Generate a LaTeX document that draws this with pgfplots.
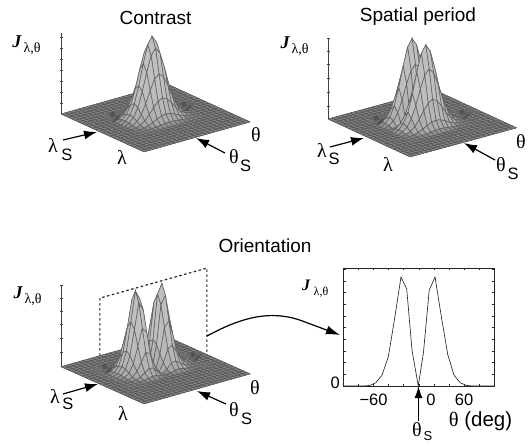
\documentclass[border=0pt]{standalone}
\usepackage{fontspec}
\setmainfont{Liberation Sans}
\newfontfamily\gk{Liberation Serif}
\usepackage{pgfplots}
\usepackage{pgfplotstable}
\pgfplotsset{compat=1.18}
\usetikzlibrary{arrows.meta}
\definecolor{axc}{gray}{0.25}
\definecolor{floorline}{gray}{0.3}
\pgfplotsset{
  colormap={hill}{gray(0cm)=(0.15) gray(1cm)=(0.5) gray(4cm)=(0.66) gray(31cm)=(0.75)},
  surfax/.style={hide axis, clip=false, anchor=origin,
    xmin=0,xmax=24,ymin=0,ymax=24,zmin=-0.1,zmax=1.1,
    colormap name=hill, point meta min=-0.01, point meta max=0.3},
  hillsurf/.style={surf, shader=faceted, faceted color=black!62, line width=0.55pt,
    z buffer=default, mesh/ordering=y varies, point meta=z},
  floorfill/.style={surf, shader=flat, z buffer=default, mesh/ordering=y varies, mesh/rows=2, mesh/cols=2, point meta=z},
  floorl/.style={no marks, draw=floorline, line width=0.45pt, unbounded coords=jump},
  dimple/.style={surf, shader=flat mean, z buffer=default, mesh/ordering=y varies, mesh/rows=4, mesh/cols=3, point meta=z},
}
\pgfplotstableread{
a b c
0 0 0
24 0 0
nan nan nan
0 1 0
24 1 0
nan nan nan
0 2 0
24 2 0
nan nan nan
0 3 0
24 3 0
nan nan nan
0 4 0
24 4 0
nan nan nan
0 5 0
24 5 0
nan nan nan
0 6 0
24 6 0
nan nan nan
0 7 0
24 7 0
nan nan nan
0 8 0
24 8 0
nan nan nan
0 9 0
24 9 0
nan nan nan
0 10 0
24 10 0
nan nan nan
0 11 0
24 11 0
nan nan nan
0 12 0
24 12 0
nan nan nan
0 13 0
24 13 0
nan nan nan
0 14 0
24 14 0
nan nan nan
0 15 0
24 15 0
nan nan nan
0 16 0
24 16 0
nan nan nan
0 17 0
24 17 0
nan nan nan
0 18 0
24 18 0
nan nan nan
0 19 0
24 19 0
nan nan nan
0 20 0
24 20 0
nan nan nan
0 21 0
24 21 0
nan nan nan
0 22 0
24 22 0
nan nan nan
0 23 0
24 23 0
nan nan nan
0 24 0
24 24 0
}\floortab
\newcommand{\gr}[1]{{\gk #1}}
\begin{document}
\begin{tikzpicture}[x=1pt,y=1pt]
\path[use as bounding box] (0,0) rectangle (529,445);

% ---------- Contrast
\begin{axis}[surfax, at={(61pt,331pt)}, x={(3.46pt,-1.58pt)}, y={(4.42pt,1.25pt)}, z={(0pt,80pt)}]
\addplot3[floorfill] coordinates {(0,24,0)(0,0,0)(24,24,0)(24,0,0)};
\addplot3[floorl] table[x=a,y=b,z=c]{\floortab};
\addplot3[floorl] table[x=b,y=a,z=c]{\floortab};
\addplot3[no marks, draw=axc, line width=0.6pt] coordinates {(0,0,0)(0,0,1.01)};
\addplot3[only marks, mark=-, mark size=1.5pt, draw=axc] coordinates {(0,0,.1375)(0,0,.275)(0,0,.4125)(0,0,.55)(0,0,.6875)(0,0,.825)(0,0,.9625)};
\addplot3[hillsurf, mesh/rows=15, mesh/cols=13] coordinates {
(5,19,0)(5,18,0)(5,17,0)(5,16,0)(5,15,0)(5,14,0)(5,13,0)(5,12,0)(5,11,0)(5,10,0)(5,9,0)(5,8,0)(5,7,0)(5,6,0)(5,5,0)
(6,19,0)(6,18,.001)(6,17,.003)(6,16,.007)(6,15,.013)(6,14,.021)(6,13,.027)(6,12,.03)(6,11,.027)(6,10,.021)(6,9,.013)(6,8,.007)(6,7,.003)(6,6,.001)(6,5,0)
(7,19,0)(7,18,.004)(7,17,.01)(7,16,.024)(7,15,.047)(7,14,.076)(7,13,.1)(7,12,.11)(7,11,.1)(7,10,.076)(7,9,.047)(7,8,.024)(7,7,.01)(7,6,.004)(7,5,0)
(8,19,0)(8,18,.01)(8,17,.028)(8,16,.064)(8,15,.125)(8,14,.2)(8,13,.264)(8,12,.29)(8,11,.264)(8,10,.2)(8,9,.125)(8,8,.064)(8,7,.028)(8,6,.01)(8,5,0)
(9,19,0)(9,18,.019)(9,17,.054)(9,16,.125)(9,15,.245)(9,14,.393)(9,13,.519)(9,12,.57)(9,11,.519)(9,10,.393)(9,9,.245)(9,8,.125)(9,7,.054)(9,6,.019)(9,5,0)
(10,19,0)(10,18,.029)(10,17,.083)(10,16,.191)(10,15,.374)(10,14,.6)(10,13,.792)(10,12,.87)(10,11,.792)(10,10,.6)(10,9,.374)(10,8,.191)(10,7,.083)(10,6,.029)(10,5,0)
(11,19,0)(11,18,.033)(11,17,.095)(11,16,.22)(11,15,.43)(11,14,.69)(11,13,.91)(11,12,1)(11,11,.91)(11,10,.69)(11,9,.43)(11,8,.22)(11,7,.095)(11,6,.033)(11,5,0)
(12,19,0)(12,18,.029)(12,17,.083)(12,16,.191)(12,15,.374)(12,14,.6)(12,13,.792)(12,12,.87)(12,11,.792)(12,10,.6)(12,9,.374)(12,8,.191)(12,7,.083)(12,6,.029)(12,5,0)
(13,19,0)(13,18,.019)(13,17,.054)(13,16,.125)(13,15,.245)(13,14,.393)(13,13,.519)(13,12,.57)(13,11,.519)(13,10,.393)(13,9,.245)(13,8,.125)(13,7,.054)(13,6,.019)(13,5,0)
(14,19,0)(14,18,.01)(14,17,.028)(14,16,.064)(14,15,.125)(14,14,.2)(14,13,.264)(14,12,.29)(14,11,.264)(14,10,.2)(14,9,.125)(14,8,.064)(14,7,.028)(14,6,.01)(14,5,0)
(15,19,0)(15,18,.004)(15,17,.01)(15,16,.024)(15,15,.047)(15,14,.076)(15,13,.1)(15,12,.11)(15,11,.1)(15,10,.076)(15,9,.047)(15,8,.024)(15,7,.01)(15,6,.004)(15,5,0)
(16,19,0)(16,18,.001)(16,17,.003)(16,16,.007)(16,15,.013)(16,14,.021)(16,13,.027)(16,12,.03)(16,11,.027)(16,10,.021)(16,9,.013)(16,8,.007)(16,7,.003)(16,6,.001)(16,5,0)
(17,19,0)(17,18,0)(17,17,0)(17,16,0)(17,15,0)(17,14,0)(17,13,0)(17,12,0)(17,11,0)(17,10,0)(17,9,0)(17,8,0)(17,7,0)(17,6,0)(17,5,0)
};
\addplot3[dimple] coordinates {(5,9,0)(5,8,0)(5,7,0)(5,6,0)(6,9,0)(6,8,-.08)(6,7,-.08)(6,6,0)(7,9,0)(7,8,0)(7,7,0)(7,6,0)};
\addplot3[dimple] coordinates {(9,22,0)(9,21,0)(9,20,0)(9,19,0)(10,22,0)(10,21,-.08)(10,20,-.08)(10,19,0)(11,22,0)(11,21,0)(11,20,0)(11,19,0)};
\end{axis}

% ---------- Spatial period
\begin{axis}[surfax, at={(328pt,326pt)}, x={(3.42pt,-1.58pt)}, y={(4.44pt,1.21pt)}, z={(0pt,80pt)}]
\addplot3[floorfill] coordinates {(0,24,0)(0,0,0)(24,24,0)(24,0,0)};
\addplot3[floorl] table[x=a,y=b,z=c]{\floortab};
\addplot3[floorl] table[x=b,y=a,z=c]{\floortab};
\addplot3[no marks, draw=axc, line width=0.6pt] coordinates {(0,0,0)(0,0,1.01)};
\addplot3[only marks, mark=-, mark size=1.5pt, draw=axc] coordinates {(0,0,.16)(0,0,.34)(0,0,.51)(0,0,.68)(0,0,.85)(0,0,1.01)};
\addplot3[hillsurf, mesh/rows=15, mesh/cols=15] coordinates {
(4,19,0)(4,18,0)(4,17,0)(4,16,0)(4,15,0)(4,14,0)(4,13,0)(4,12,0)(4,11,0)(4,10,0)(4,9,0)(4,8,0)(4,7,0)(4,6,0)(4,5,0)
(5,19,0)(5,18,.001)(5,17,.003)(5,16,.007)(5,15,.013)(5,14,.021)(5,13,.027)(5,12,.03)(5,11,.027)(5,10,.021)(5,9,.013)(5,8,.007)(5,7,.003)(5,6,.001)(5,5,0)
(6,19,0)(6,18,.004)(6,17,.011)(6,16,.026)(6,15,.052)(6,14,.083)(6,13,.109)(6,12,.12)(6,11,.109)(6,10,.083)(6,9,.052)(6,8,.026)(6,7,.011)(6,6,.004)(6,5,0)
(7,19,0)(7,18,.012)(7,17,.034)(7,16,.079)(7,15,.155)(7,14,.248)(7,13,.328)(7,12,.36)(7,11,.328)(7,10,.248)(7,9,.155)(7,8,.079)(7,7,.034)(7,6,.012)(7,5,0)
(8,19,0)(8,18,.024)(8,17,.068)(8,16,.158)(8,15,.31)(8,14,.497)(8,13,.655)(8,12,.72)(8,11,.655)(8,10,.497)(8,9,.31)(8,8,.158)(8,7,.068)(8,6,.024)(8,5,0)
(9,19,0)(9,18,.033)(9,17,.095)(9,16,.22)(9,15,.43)(9,14,.69)(9,13,.91)(9,12,1)(9,11,.91)(9,10,.69)(9,9,.43)(9,8,.22)(9,7,.095)(9,6,.033)(9,5,0)
(10,19,0)(10,18,.023)(10,17,.067)(10,16,.154)(10,15,.301)(10,14,.483)(10,13,.637)(10,12,.7)(10,11,.637)(10,10,.483)(10,9,.301)(10,8,.154)(10,7,.067)(10,6,.023)(10,5,0)
(11,19,0)(11,18,.005)(11,17,.014)(11,16,.033)(11,15,.065)(11,14,.104)(11,13,.137)(11,12,.15)(11,11,.137)(11,10,.104)(11,9,.065)(11,8,.033)(11,7,.014)(11,6,.005)(11,5,0)
(12,19,0)(12,18,.023)(12,17,.067)(12,16,.154)(12,15,.301)(12,14,.483)(12,13,.637)(12,12,.7)(12,11,.637)(12,10,.483)(12,9,.301)(12,8,.154)(12,7,.067)(12,6,.023)(12,5,0)
(13,19,0)(13,18,.033)(13,17,.095)(13,16,.22)(13,15,.43)(13,14,.69)(13,13,.91)(13,12,1)(13,11,.91)(13,10,.69)(13,9,.43)(13,8,.22)(13,7,.095)(13,6,.033)(13,5,0)
(14,19,0)(14,18,.024)(14,17,.068)(14,16,.158)(14,15,.31)(14,14,.497)(14,13,.655)(14,12,.72)(14,11,.655)(14,10,.497)(14,9,.31)(14,8,.158)(14,7,.068)(14,6,.024)(14,5,0)
(15,19,0)(15,18,.012)(15,17,.034)(15,16,.079)(15,15,.155)(15,14,.248)(15,13,.328)(15,12,.36)(15,11,.328)(15,10,.248)(15,9,.155)(15,8,.079)(15,7,.034)(15,6,.012)(15,5,0)
(16,19,0)(16,18,.004)(16,17,.011)(16,16,.026)(16,15,.052)(16,14,.083)(16,13,.109)(16,12,.12)(16,11,.109)(16,10,.083)(16,9,.052)(16,8,.026)(16,7,.011)(16,6,.004)(16,5,0)
(17,19,0)(17,18,.001)(17,17,.003)(17,16,.007)(17,15,.013)(17,14,.021)(17,13,.027)(17,12,.03)(17,11,.027)(17,10,.021)(17,9,.013)(17,8,.007)(17,7,.003)(17,6,.001)(17,5,0)
(18,19,0)(18,18,0)(18,17,0)(18,16,0)(18,15,0)(18,14,0)(18,13,0)(18,12,0)(18,11,0)(18,10,0)(18,9,0)(18,8,0)(18,7,0)(18,6,0)(18,5,0)
};
\addplot3[dimple] coordinates {(4,9,0)(4,8,0)(4,7,0)(4,6,0)(5,9,0)(5,8,-.08)(5,7,-.08)(5,6,0)(6,9,0)(6,8,0)(6,7,0)(6,6,0)};
\addplot3[dimple] coordinates {(11,23,0)(11,22,0)(11,21,0)(11,20,0)(12,23,0)(12,22,-.08)(12,21,-.08)(12,20,0)(13,23,0)(13,22,0)(13,21,0)(13,20,0)};
\end{axis}

% ---------- Orientation surface
\begin{axis}[surfax, at={(61pt,78.3pt)}, x={(3.46pt,-1.55pt)}, y={(4.42pt,1.25pt)}, z={(0pt,80pt)}]
\addplot3[floorfill] coordinates {(0,24,0)(0,0,0)(24,24,0)(24,0,0)};
\addplot3[floorl] table[x=a,y=b,z=c]{\floortab};
\addplot3[floorl] table[x=b,y=a,z=c]{\floortab};
\addplot3[no marks, draw=axc, line width=0.6pt] coordinates {(0,0,0)(0,0,1.02)};
\addplot3[only marks, mark=-, mark size=1.5pt, draw=axc] coordinates {(0,0,.18)(0,0,.355)(0,0,.53)(0,0,.7)(0,0,.86)(0,0,1.02)};
\addplot3[no marks, draw=black!85, line width=1.2pt, dash pattern=on 2.5pt off 2.5pt] coordinates {(0,8.8,0)(0,8.8,.72)(11.5,24,1.08)(11.5,24,0)};
\addplot3[hillsurf, mesh/rows=19, mesh/cols=13] coordinates {
(4,21,0)(4,20,0)(4,19,0)(4,18,0)(4,17,0)(4,16,0)(4,15,0)(4,14,0)(4,13,0)(4,12,0)(4,11,0)(4,10,0)(4,9,0)(4,8,0)(4,7,0)(4,6,0)(4,5,0)(4,4,0)(4,3,0)
(5,21,0)(5,20,0)(5,19,.001)(5,18,.003)(5,17,.008)(5,16,.019)(5,15,.03)(5,14,.026)(5,13,.01)(5,12,0)(5,11,.01)(5,10,.026)(5,9,.03)(5,8,.019)(5,7,.008)(5,6,.003)(5,5,.001)(5,4,0)(5,3,0)
(6,21,0)(6,20,.001)(6,19,.003)(6,18,.011)(6,17,.031)(6,16,.069)(6,15,.11)(6,14,.097)(6,13,.036)(6,12,0)(6,11,.036)(6,10,.097)(6,9,.11)(6,8,.069)(6,7,.031)(6,6,.011)(6,5,.003)(6,4,.001)(6,3,0)
(7,21,0)(7,20,.001)(7,19,.009)(7,18,.029)(7,17,.081)(7,16,.183)(7,15,.29)(7,14,.255)(7,13,.096)(7,12,0)(7,11,.096)(7,10,.255)(7,9,.29)(7,8,.183)(7,7,.081)(7,6,.029)(7,5,.009)(7,4,.001)(7,3,0)
(8,21,0)(8,20,.003)(8,19,.017)(8,18,.057)(8,17,.16)(8,16,.359)(8,15,.57)(8,14,.502)(8,13,.188)(8,12,0)(8,11,.188)(8,10,.502)(8,9,.57)(8,8,.359)(8,7,.16)(8,6,.057)(8,5,.017)(8,4,.003)(8,3,0)
(9,21,0)(9,20,.004)(9,19,.026)(9,18,.087)(9,17,.244)(9,16,.548)(9,15,.87)(9,14,.766)(9,13,.287)(9,12,0)(9,11,.287)(9,10,.766)(9,9,.87)(9,8,.548)(9,7,.244)(9,6,.087)(9,5,.026)(9,4,.004)(9,3,0)
(10,21,0)(10,20,.005)(10,19,.03)(10,18,.1)(10,17,.28)(10,16,.63)(10,15,1)(10,14,.88)(10,13,.33)(10,12,0)(10,11,.33)(10,10,.88)(10,9,1)(10,8,.63)(10,7,.28)(10,6,.1)(10,5,.03)(10,4,.005)(10,3,0)
(11,21,0)(11,20,.004)(11,19,.026)(11,18,.087)(11,17,.244)(11,16,.548)(11,15,.87)(11,14,.766)(11,13,.287)(11,12,0)(11,11,.287)(11,10,.766)(11,9,.87)(11,8,.548)(11,7,.244)(11,6,.087)(11,5,.026)(11,4,.004)(11,3,0)
(12,21,0)(12,20,.003)(12,19,.017)(12,18,.057)(12,17,.16)(12,16,.359)(12,15,.57)(12,14,.502)(12,13,.188)(12,12,0)(12,11,.188)(12,10,.502)(12,9,.57)(12,8,.359)(12,7,.16)(12,6,.057)(12,5,.017)(12,4,.003)(12,3,0)
(13,21,0)(13,20,.001)(13,19,.009)(13,18,.029)(13,17,.081)(13,16,.183)(13,15,.29)(13,14,.255)(13,13,.096)(13,12,0)(13,11,.096)(13,10,.255)(13,9,.29)(13,8,.183)(13,7,.081)(13,6,.029)(13,5,.009)(13,4,.001)(13,3,0)
(14,21,0)(14,20,.001)(14,19,.003)(14,18,.011)(14,17,.031)(14,16,.069)(14,15,.11)(14,14,.097)(14,13,.036)(14,12,0)(14,11,.036)(14,10,.097)(14,9,.11)(14,8,.069)(14,7,.031)(14,6,.011)(14,5,.003)(14,4,.001)(14,3,0)
(15,21,0)(15,20,0)(15,19,.001)(15,18,.003)(15,17,.008)(15,16,.019)(15,15,.03)(15,14,.026)(15,13,.01)(15,12,0)(15,11,.01)(15,10,.026)(15,9,.03)(15,8,.019)(15,7,.008)(15,6,.003)(15,5,.001)(15,4,0)(15,3,0)
(16,21,0)(16,20,0)(16,19,0)(16,18,0)(16,17,0)(16,16,0)(16,15,0)(16,14,0)(16,13,0)(16,12,0)(16,11,0)(16,10,0)(16,9,0)(16,8,0)(16,7,0)(16,6,0)(16,5,0)(16,4,0)(16,3,0)
};
\addplot3[dimple] coordinates {(4,8,0)(4,7,0)(4,6,0)(4,5,0)(5,8,0)(5,7,-.08)(5,6,-.08)(5,5,0)(6,8,0)(6,7,0)(6,6,0)(6,5,0)};
\addplot3[dimple] coordinates {(9,24,0)(9,23,0)(9,22,0)(9,21,0)(10,24,0)(10,23,-.08)(10,22,-.08)(10,21,0)(11,24,0)(11,23,0)(11,22,0)(11,21,0)};
\end{axis}

% ---------- 2D slice
\begin{axis}[at={(343.3pt,59pt)}, anchor=south west, scale only axis, width=151pt, height=118pt,
  xmin=-100, xmax=100, ymin=0, ymax=1.083,
  axis line style={draw=black!85, line width=0.7pt},
  tick align=inside, major tick length=2.2pt, tick style={draw=black!85, line width=0.5pt},
  xtick={-100,-80,-60,-40,-20,0,20,40,60,80,100},
  xticklabels={,,−60\hspace{8pt},,,,,,60,,},
  ytick={0,.1073,.2146,.3219,.4292,.5365,.6438,.7511,.8584,.9657,1.073},
  yticklabels={0,,,,,,,,,,},
  tick label style={font=\fontsize{16.5}{18}\selectfont},
  xticklabel style={yshift=-4pt},
  yticklabel style={xshift=0pt,yshift=3pt},
]
\addplot[black!85, line width=0.65pt, no marks] coordinates {(-100,0)(-74,0)(-65,.005)(-57,.03)(-48.7,.1)(-40.3,.27)(-32,.62)(-23.6,1)(-16,.89)(-9,.33)(-.7,0)(6.2,.31)(13.8,.88)(21.5,1)(30,.63)(38.3,.29)(46.6,.1)(54.8,.03)(63.2,.005)(72,0)(100,0)};
\end{axis}

% ---------- text
\def\tf{\fontsize{19}{21}\selectfont}
\node[font=\tf] at (155.5,427) {Contrast};
\node[font=\tf] at (418,428) {Spatial period};
\node[font=\tf] at (265,199) {Orientation};
\def\gs{\fontsize{20}{20}\selectfont\gk}
\def\ss{\fontsize{16.5}{17}\selectfont}
\tikzset{ann/.style={line width=1.2pt,-{Latex[length=13pt,width=9pt]}}}
% J labels
\foreach \p/\q/\a/\b in {17/403/18/14, 285/402/18/14, 18/152/18/14, 306/160/16/12}{
  \node[font=\fontsize{\a}{\a}\selectfont\gk\bfseries\itshape] at (\p,\q) {J};
  \pgfmathsetmacro\px{\p+15}\pgfmathsetmacro\qy{\q-7}
  \node[font=\fontsize{\b}{\b}\selectfont\gk] at (\px,\qy) {λ,θ};
}
% contrast annotations
\node[font=\gs] at (53,300) {λ}; \node[font=\ss] at (67,290) {S};
\draw[ann] (63,305) -- (97,313);
\node[font=\gs] at (122,288) {λ};
\node[font=\gs] at (256,310) {θ};
\node[font=\gs] at (234,288) {θ}; \node[font=\ss] at (245.5,279) {S};
\draw[ann] (225,292) -- (196,307);
% spatial annotations
\node[font=\gs] at (322,295) {λ}; \node[font=\ss] at (334,286) {S};
\draw[ann] (330,298) -- (364,307);
\node[font=\gs] at (388,281) {λ};
\node[font=\gs] at (521,303) {θ};
\node[font=\gs] at (501,280) {θ}; \node[font=\ss] at (513,271) {S};
\draw[ann] (495,285) -- (464,302);
% orientation annotations
\node[font=\gs] at (55,49) {λ}; \node[font=\ss] at (68,41) {S};
\draw[ann] (63,51) -- (98,61);
\node[font=\gs] at (123,32) {λ};
\node[font=\gs] at (255,57) {θ};
\node[font=\gs] at (234,35) {θ}; \node[font=\ss] at (246.5,26) {S};
\draw[ann] (226,41) -- (197,54);
% link curve
\draw[line width=1.2pt,-{Latex[length=14pt,width=9pt]}] (207,109) .. controls (235,124) and (268,138) .. (305,123) -- (340,110);
% slice annotations
\node[font=\fontsize{16.5}{18}\selectfont] at (431,45) {0};
\draw[line width=1.2pt,-{Latex[length=12pt,width=8pt]}] (418.5,24) -- (418.5,59);
\node[font=\fontsize{20.5}{22}\selectfont] at (480.5,24) {\gr{θ} (deg)};
\node[font=\gs] at (417,15) {θ}; \node[font=\fontsize{13}{14}\selectfont] at (428,9) {S};
\end{tikzpicture}
\end{document}
